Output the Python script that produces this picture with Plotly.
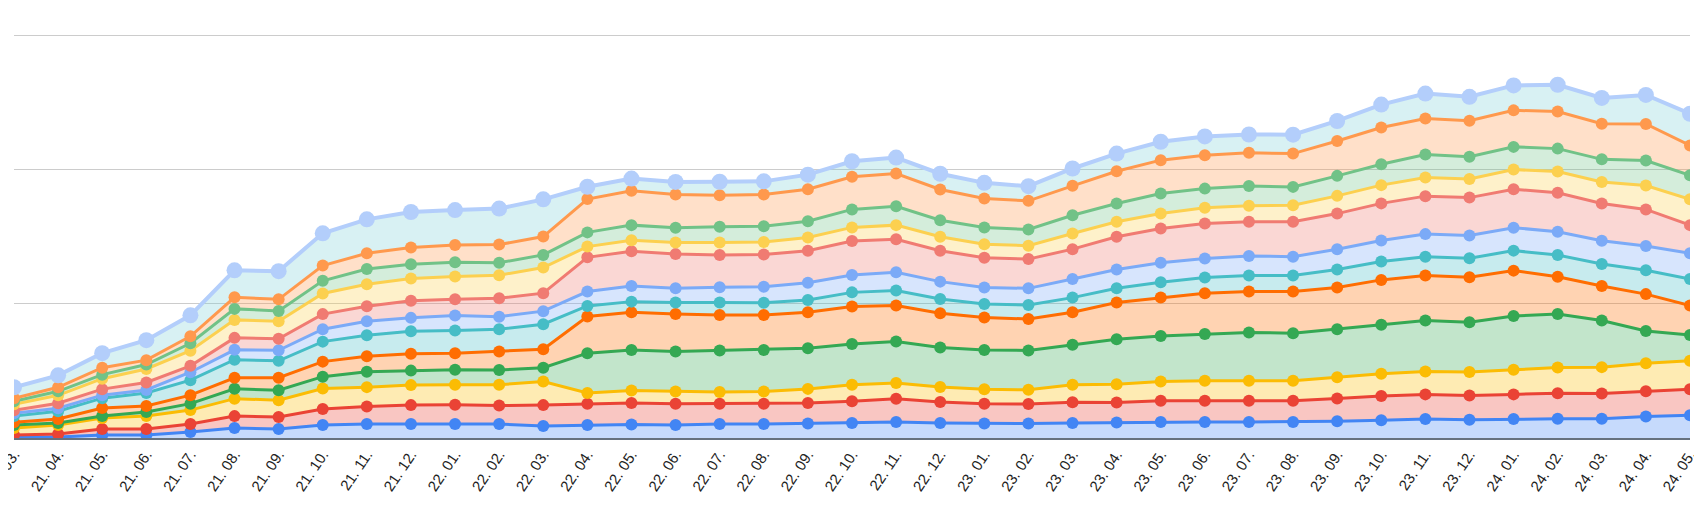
import plotly.graph_objects as go

months = ["21. 03.", "21. 04.", "21. 05.", "21. 06.", "21. 07.", "21. 08.", "21. 09.", "21. 10.", "21. 11.", "21. 12.",
          "22. 01.", "22. 02.", "22. 03.", "22. 04.", "22. 05.", "22. 06.", "22. 07.", "22. 08.", "22. 09.", "22. 10.",
          "22. 11.", "22. 12.", "23. 01.", "23. 02.", "23. 03.", "23. 04.", "23. 05.", "23. 06.", "23. 07.", "23. 08.",
          "23. 09.", "23. 10.", "23. 11.", "23. 12.", "24. 01.", "24. 02.", "24. 03.", "24. 04.", "24. 05."]

s1 = [0.7, 0.7, 2.2, 2.2, 4.5, 7.4, 6.7, 9.7, 10.4, 10.4, 10.4, 10.4, 8.9, 9.7, 10.0, 9.7, 10.4, 10.4, 10.8, 11.2,
      11.9, 11.2, 10.8, 10.8, 11.2, 11.5, 11.9, 11.9, 11.9, 11.9, 12.4, 13.2, 14.1, 13.6, 14.1, 14.3, 14.3, 16.1, 16.9]
s2 = [1.5, 2.2, 4.5, 4.5, 5.9, 8.9, 8.9, 11.9, 13.0, 14.1, 14.3, 13.8, 15.6, 15.8, 16.0, 15.8, 15.1, 15.1, 15.2, 16.1,
      17.3, 15.6, 14.7, 14.5, 15.4, 15.0, 15.8, 15.8, 15.8, 15.8, 17.1, 18.1, 18.4, 18.0, 18.4, 19.1, 18.9, 18.8, 19.4]
s3 = [5.2, 6.7, 8.2, 9.7, 10.4, 13.0, 12.6, 15.2, 14.5, 14.9, 14.9, 15.5, 17.6, 8.0, 9.4, 9.2, 8.7, 9.2, 10.6, 12.3,
      11.7, 11.2, 10.9, 10.6, 13.1, 13.6, 14.4, 14.9, 14.9, 14.9, 15.8, 16.6, 17.1, 17.5, 18.3, 19.2, 19.6, 20.8, 21.2]
s4 = [2.2, 1.5, 1.5, 3.0, 4.8, 7.4, 7.4, 8.9, 11.5, 10.8, 11.2, 10.9, 10.3, 29.7, 30.2, 29.7, 31.0, 30.9, 30.3, 30.5,
      31.0, 29.5, 29.2, 29.3, 29.7, 33.5, 33.9, 34.9, 36.0, 35.5, 35.7, 36.4, 37.9, 37.2, 40.1, 39.8, 34.7, 24.0, 19.3]
s5 = [2.2, 3.0, 5.9, 4.5, 6.3, 8.2, 9.3, 11.2, 11.5, 12.6, 12.4, 13.9, 13.8, 27.3, 28.0, 28.0, 26.5, 26.0, 26.8, 27.8,
      26.8, 25.5, 24.1, 23.5, 24.3, 27.3, 28.6, 30.3, 30.5, 31.0, 31.2, 33.5, 33.5, 33.5, 33.8, 27.8, 25.7, 27.5, 21.9]
s6 = [4.5, 5.9, 7.4, 9.7, 11.2, 13.4, 12.6, 14.9, 15.6, 16.7, 16.9, 16.6, 18.6, 7.9, 8.0, 8.5, 9.2, 9.2, 9.1, 10.6,
      11.2, 10.6, 10.1, 10.4, 10.9, 10.6, 11.4, 11.7, 11.9, 11.9, 13.4, 13.7, 14.1, 14.1, 14.9, 16.1, 16.4, 17.8, 19.8]
s7 = [2.2, 2.2, 2.2, 2.2, 5.9, 7.4, 7.8, 9.3, 10.4, 10.0, 11.2, 9.3, 9.7, 10.7, 11.6, 10.6, 11.4, 11.9, 12.9, 12.9,
      13.6, 12.9, 12.4, 12.4, 13.8, 14.1, 14.6, 14.3, 14.6, 14.1, 15.1, 15.6, 16.8, 16.9, 17.1, 17.4, 17.4, 18.1, 19.1]
s8 = [2.2, 3.7, 4.5, 5.6, 4.8, 8.9, 8.6, 11.2, 11.2, 12.8, 12.1, 13.8, 13.4, 25.5, 26.0, 25.5, 24.0, 24.0, 23.8, 25.3,
      24.5, 23.0, 22.1, 21.8, 22.3, 24.3, 25.5, 26.0, 25.6, 26.0, 26.5, 27.7, 28.3, 28.3, 28.7, 29.0, 27.7, 27.2, 21.0]
s9 = [4.5, 5.9, 7.8, 10.0, 11.2, 13.4, 13.0, 15.4, 16.4, 16.6, 16.9, 17.1, 19.1, 8.0, 8.2, 8.7, 9.4, 9.4, 9.9, 10.2,
      10.6, 10.4, 10.1, 10.0, 11.7, 11.2, 11.2, 11.7, 11.9, 12.3, 13.2, 13.6, 13.9, 13.8, 14.6, 15.8, 16.1, 17.8, 19.3]
s10 = [2.2, 3.0, 3.0, 3.3, 5.6, 8.2, 7.8, 9.4, 11.4, 10.6, 10.6, 9.3, 9.4, 10.6, 11.2, 10.9, 11.7, 11.6, 12.1, 13.4,
       14.1, 12.3, 12.4, 12.1, 13.6, 13.6, 14.9, 14.3, 14.6, 13.7, 14.9, 15.6, 17.1, 16.7, 16.9, 17.1, 16.8, 18.6, 17.8]
s11 = [2.2, 3.0, 5.2, 3.3, 5.2, 8.6, 8.6, 11.4, 11.7, 12.4, 12.9, 13.5, 13.7, 24.8, 25.6, 24.8, 23.5, 23.8, 23.8, 24.3,
       24.3, 23.0, 21.6, 21.3, 21.9, 24.0, 24.8, 24.8, 24.8, 24.8, 26.0, 27.3, 26.8, 26.8, 27.2, 27.7, 26.5, 27.3, 22.3]
s12 = [8.2, 8.9, 10.8, 14.9, 15.6, 20.1, 21.0, 24.0, 25.3, 26.5, 26.0, 26.8, 27.7, 9.2, 9.1, 9.4, 10.0, 9.7, 10.9, 11.6,
       11.9, 11.7, 11.7, 10.9, 12.9, 13.2, 13.7, 14.1, 13.6, 14.1, 14.9, 17.1, 18.6, 17.8, 18.6, 19.9, 19.3, 21.6, 23.6]

series = [s1, s2, s3, s4, s5, s6, s7, s8, s9, s10, s11, s12]
line_colors = ["#4285F4", "#EA4335", "#FBBC04", "#34A853", "#FF6D01", "#46BDC6",
               "#7BAAF7", "#F07B72", "#FCD04F", "#71C287", "#FF994D", "#B3CEFB"]
fill_colors = ["#4285F4", "#EA4335", "#FBBC04", "#34A853", "#FF6D01", "#46BDC6",
               "#7BAAF7", "#F07B72", "#FCD04F", "#71C287", "#FF994D", "#7ED1D7"]


def rgba(hex_color, a):
    h = hex_color.lstrip("#")
    r, g, b = int(h[0:2], 16), int(h[2:4], 16), int(h[4:6], 16)
    return f"rgba({r},{g},{b},{a})"


fig = go.Figure()
for k, vals in enumerate(series):
    top = k == len(series) - 1
    fig.add_trace(go.Scatter(
        x=months, y=vals, mode="lines+markers", stackgroup="one",
        line=dict(color=line_colors[k], width=4 if top else 3),
        marker=dict(color=line_colors[k], size=16 if top else 12),
        fillcolor=rgba(fill_colors[k], 0.3),
        hoverinfo="skip", showlegend=False,
    ))

fig.update_layout(
    width=1702, height=511,
    margin=dict(l=6, r=20, t=26, b=81, autoexpand=False),
    paper_bgcolor="white", plot_bgcolor="white",
    showlegend=False,
    font=dict(family="Liberation Sans, Arial, sans-serif", size=15, color="#222222"),
    xaxis=dict(
        type="category", range=[0, len(months) - 1], automargin=False,
        showgrid=False, zeroline=False,
        showline=True, linecolor="#66717e", linewidth=1.5,
        ticks="", tickangle=-56, tickfont=dict(size=15, color="#222222"),
    ),
    yaxis=dict(
        range=[0, 301], dtick=100, showticklabels=False, automargin=False,
        showgrid=True, gridcolor="#cccccc", gridwidth=1,
        zeroline=False, showline=False, ticks="",
    ),
)

fig.write_html("out.html", config={"displayModeBar": False})
